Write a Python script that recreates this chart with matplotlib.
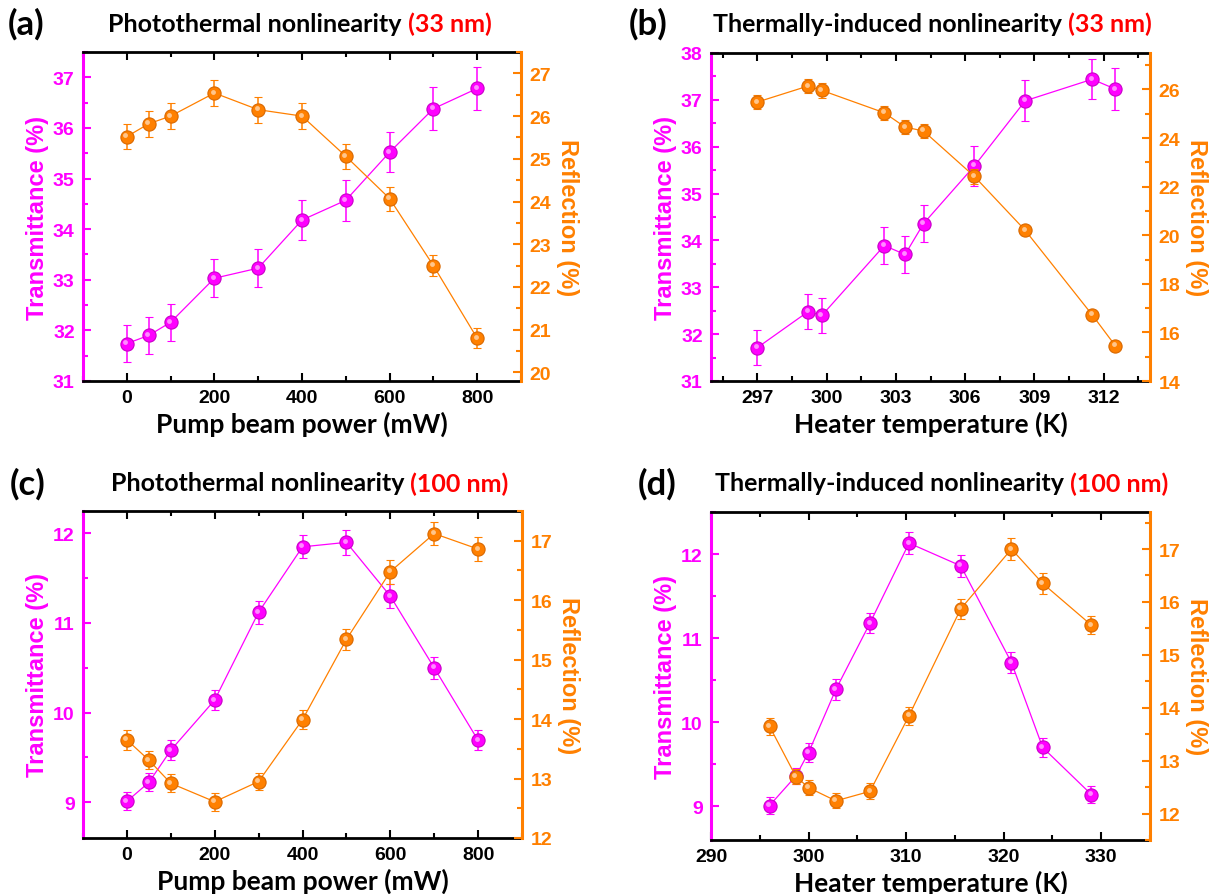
import matplotlib
matplotlib.use("Agg")
import matplotlib.pyplot as plt
from matplotlib.ticker import MultipleLocator
from matplotlib.transforms import offset_copy

# Panel (a): photothermal, 33 nm
power = [0, 50, 100, 200, 300, 400, 500, 600, 700, 800]
a_trans = [31.74, 31.90, 32.16, 33.03, 33.23, 34.18, 34.57, 35.52, 36.38, 36.78]
a_trans_err = [0.36, 0.37, 0.36, 0.38, 0.38, 0.39, 0.40, 0.40, 0.43, 0.42]
a_refl = [25.52, 25.82, 26.00, 26.54, 26.15, 26.00, 25.06, 24.07, 22.50, 20.80]
a_refl_err = [0.30, 0.30, 0.30, 0.30, 0.30, 0.30, 0.29, 0.28, 0.25, 0.23]

# Panel (b): thermally-induced, 33 nm
temp_b = [297.0, 299.2, 299.8, 302.5, 303.4, 304.2, 306.4, 308.6, 311.5, 312.5]
b_trans = [31.71, 32.48, 32.40, 33.89, 33.70, 34.36, 35.59, 36.98, 37.44, 37.23]
b_trans_err = [0.37, 0.38, 0.38, 0.39, 0.40, 0.39, 0.42, 0.44, 0.43, 0.44]
b_refl = [25.48, 26.14, 25.96, 25.04, 24.45, 24.29, 22.42, 20.20, 16.72, 15.45]
b_refl_err = [0.30, 0.30, 0.30, 0.28, 0.28, 0.28, 0.30, 0.20, 0.10, 0.10]

# Panel (c): photothermal, 100 nm
c_trans = [9.01, 9.22, 9.58, 10.14, 11.12, 11.85, 11.90, 11.30, 10.50, 9.69]
c_trans_err = [0.10, 0.10, 0.11, 0.11, 0.13, 0.13, 0.14, 0.13, 0.12, 0.11]
c_refl = [13.65, 13.31, 12.92, 12.61, 12.95, 13.99, 15.34, 16.48, 17.12, 16.86]
c_refl_err = [0.17, 0.15, 0.15, 0.15, 0.15, 0.16, 0.18, 0.20, 0.20, 0.20]

# Panel (d): thermally-induced, 100 nm
temp_d = [296.0, 298.7, 300.0, 302.8, 306.3, 310.3, 315.6, 320.8, 324.0, 329.0]
d_trans = [9.01, 9.36, 9.64, 10.39, 11.18, 12.13, 11.86, 10.71, 9.70, 9.14]
d_trans_err = [0.10, 0.10, 0.11, 0.12, 0.12, 0.13, 0.13, 0.13, 0.11, 0.10]
d_refl = [13.65, 12.70, 12.49, 12.24, 12.42, 13.85, 15.87, 17.00, 16.35, 15.56]
d_refl_err = [0.16, 0.15, 0.14, 0.14, 0.15, 0.17, 0.19, 0.20, 0.20, 0.17]

MAG = '#FF00FF'
ORA = '#FF8000'
TITLEFONT = 'Lato'

plt.rcParams['font.family'] = ['Liberation Sans', 'DejaVu Sans']
plt.rcParams['font.weight'] = 'bold'
plt.rcParams['font.size'] = 14

fig = plt.figure(figsize=(12.1, 8.95), dpi=100)
W, H = 1210, 895


def rect(left, top, right, bottom):
    return [left / W, 1 - bottom / H, (right - left) / W, (bottom - top) / H]


def sphere(ax, x, y, err, color, edge):
    ax.errorbar(x, y, yerr=err, color=color, lw=0.9, elinewidth=1.1,
                capsize=3, capthick=1.1, marker='o', ms=9.5,
                mfc=color, mec=edge, mew=0.8, zorder=3)
    hl = offset_copy(ax.transData, fig=fig, x=-1.5, y=1.5, units='dots')
    ax.plot(x, y, 'o', ms=3.5, color='white', alpha=0.55, mew=0,
            transform=hl, zorder=4)


def panel(box, x, tr, tr_err, rf, rf_err, xlim, xmaj, xmin, ylim1, ymaj1,
          ylim2, ymaj2, ymin2, xlabel, letter, title, size, letter_x, title_x, title_y):
    ax = fig.add_axes(rect(*box))
    ax2 = ax.twinx()
    sphere(ax, x, tr, tr_err, MAG, '#C800C8')
    sphere(ax2, x, rf, rf_err, ORA, '#D86800')

    ax.set_xlim(xlim)
    ax.set_ylim(ylim1)
    ax2.set_ylim(ylim2)
    ax.xaxis.set_major_locator(MultipleLocator(xmaj))
    ax.xaxis.set_minor_locator(MultipleLocator(xmin))
    ax.yaxis.set_major_locator(MultipleLocator(ymaj1))
    ax.yaxis.set_minor_locator(MultipleLocator(ymaj1 / 2))
    ax2.yaxis.set_major_locator(MultipleLocator(ymaj2))
    ax2.yaxis.set_minor_locator(MultipleLocator(ymin2))

    for sp in ['top', 'bottom']:
        ax.spines[sp].set_linewidth(2)
        ax.spines[sp].set_color('black')
    ax.spines['left'].set_color(MAG)
    ax.spines['left'].set_linewidth(2.2)
    ax.spines['right'].set_visible(False)
    for sp in ['top', 'bottom', 'left']:
        ax2.spines[sp].set_visible(False)
    ax2.spines['right'].set_color(ORA)
    ax2.spines['right'].set_linewidth(2.2)

    ax.tick_params(axis='x', which='both', direction='in', top=True, width=1.5,
                   colors='black', pad=6, labelsize=14)
    ax.tick_params(axis='x', which='major', length=6)
    ax.tick_params(axis='x', which='minor', length=3.5)
    ax.tick_params(axis='y', which='both', direction='in', color=MAG,
                   labelcolor=MAG, width=1.5, pad=6, labelsize=14)
    ax.tick_params(axis='y', which='major', length=6)
    ax.tick_params(axis='y', which='minor', length=3.5)
    ax2.tick_params(axis='y', which='both', direction='in', color=ORA,
                    labelcolor=ORA, width=1.5, pad=6, labelsize=14)
    ax2.tick_params(axis='y', which='major', length=6)
    ax2.tick_params(axis='y', which='minor', length=3.5)

    ax.set_xlabel(xlabel, fontfamily=TITLEFONT, fontweight='bold', fontsize=19,
                  labelpad=3)
    ax.set_ylabel('Transmittance (%)', color=MAG, fontweight='bold', fontsize=17,
                  labelpad=3)
    ax2.set_ylabel('Reflection (%)', color=ORA, fontweight='bold', fontsize=17,
                   rotation=270, labelpad=20)

    fig.text(letter_x / W, 1 - title_y / H, letter, fontfamily=TITLEFONT,
             fontweight='bold', fontsize=25, va='center', ha='left')
    t = fig.text(title_x / W, 1 - title_y / H, title, fontfamily=TITLEFONT,
                 fontweight='bold', fontsize=18, va='center', ha='left')
    r = fig.text(0, 1 - title_y / H, ' ' + size, fontfamily=TITLEFONT,
                 fontweight='bold', fontsize=18, color='red', va='center', ha='left')
    return t, r


tags = []
tags.append(panel((83, 53, 521, 382), power, a_trans, a_trans_err, a_refl, a_refl_err,
                  (-100, 900), 200, 100, (31, 37.5), 1, (19.8, 27.5), 1, 0.5,
                  'Pump beam power (mW)', '(a)', 'Photothermal nonlinearity', '(33 nm)',
                  8, 108, 24))
tags.append(panel((711, 54, 1150, 382), temp_b, b_trans, b_trans_err, b_refl, b_refl_err,
                  (295, 314), 3, 1.5, (31, 38), 1, (14, 27.5), 2, 1,
                  'Heater temperature (K)', '(b)', 'Thermally-induced nonlinearity', '(33 nm)',
                  629, 713, 24))
tags.append(panel((83, 512, 522, 839), power, c_trans, c_trans_err, c_refl, c_refl_err,
                  (-100, 900), 200, 100, (8.6, 12.25), 1, (12, 17.5), 1, 0.5,
                  'Pump beam power (mW)', '(c)', 'Photothermal nonlinearity', '(100 nm)',
                  10, 111, 484))
tags.append(panel((711, 513, 1150, 841), temp_d, d_trans, d_trans_err, d_refl, d_refl_err,
                  (290, 335), 10, 5, (8.6, 12.5), 1, (11.5, 17.7), 1, 0.5,
                  'Heater temperature (K)', '(d)', 'Thermally-induced nonlinearity', '(100 nm)',
                  638, 715, 484))

# place the red size tags right after each black title
fig.canvas.draw()
for black, red in tags:
    bb = black.get_window_extent()
    red.set_x(bb.x1 / W)

fig.savefig('out.png', dpi=100)
